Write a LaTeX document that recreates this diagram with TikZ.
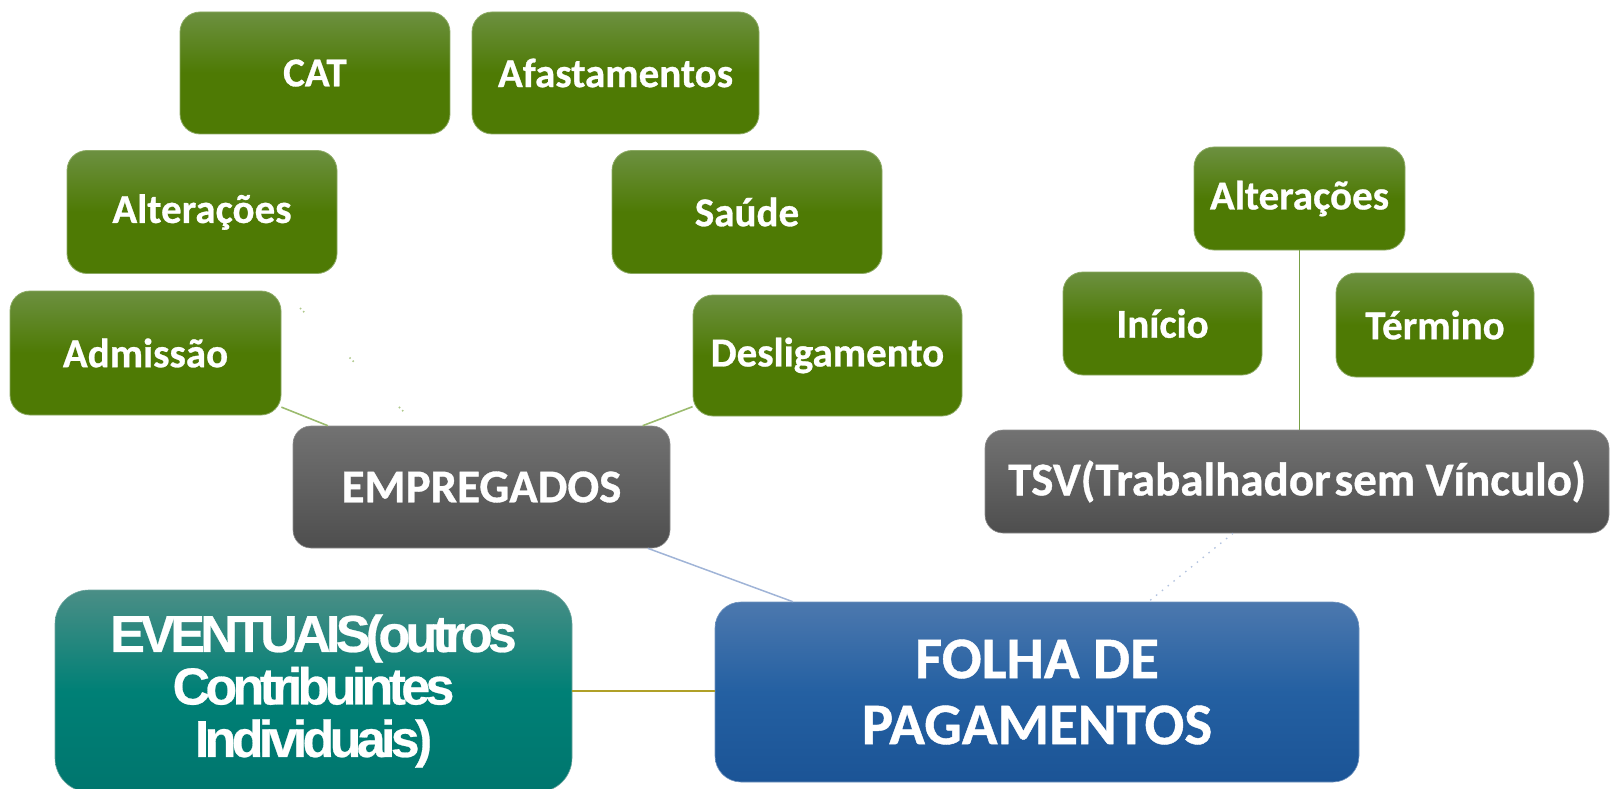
\documentclass[tikz,border=0pt]{standalone}
\usepackage{fontspec}
\setmainfont{Carlito}[BoldFeatures={FakeBold=0.7}]
\newfontfamily\arialfont[LetterSpace=-9,BoldFeatures={FakeBold=0.5}]{Liberation Sans}
\definecolor{gtop}{RGB}{108,144,64}
\definecolor{gbot}{RGB}{78,122,4}
\definecolor{gline}{RGB}{140,170,100}
\definecolor{dtop}{RGB}{114,114,114}
\definecolor{dbot}{RGB}{78,78,78}
\definecolor{btop}{RGB}{76,120,174}
\definecolor{bmid}{RGB}{36,96,162}
\definecolor{bbot}{RGB}{27,84,150}
\definecolor{ttop}{RGB}{74,142,134}
\definecolor{tmid}{RGB}{0,128,118}
\definecolor{tbot}{RGB}{0,118,110}
\definecolor{lgreen}{RGB}{155,187,110}
\definecolor{vgreen}{RGB}{120,160,70}
\definecolor{lblue}{RGB}{160,180,215}
\definecolor{olive}{RGB}{176,160,40}
\begin{document}
\begin{tikzpicture}[x=1pt,y=-1pt,
  box/.style={rounded corners=20pt, inner sep=0pt, align=center, text=white},
  gbox/.style={box, top color=gtop, bottom color=gbot, middle color=gbot, draw=gline, line width=0.8pt,
    font=\fontsize{41}{48}\selectfont\bfseries},
  dbox/.style={box, rounded corners=18pt, top color=dtop, bottom color=dbot, middle color={dtop!50!dbot}, draw=dtop!80!white, line width=0.6pt,
    font=\fontsize{47}{54}\selectfont\bfseries},
  bbox/.style={box, rounded corners=26pt, top color=btop, bottom color=bbot, middle color=bmid, draw=btop!80!white, line width=0.6pt,
    font=\fontsize{59}{66}\selectfont\bfseries},
  tbox/.style={box, rounded corners=34pt, top color=ttop, bottom color=tbot, middle color=tmid, draw=ttop!80!white, line width=0.6pt,
    font=\fontsize{52}{52.5}\selectfont\arialfont\bfseries},
  conG/.style={draw=lgreen, line width=1.6pt},
  conV/.style={draw=vgreen, line width=1.5pt},
  conB/.style={draw=lblue, line width=1.5pt},
  conBd/.style={draw=lblue!80!white, line width=1.3pt, dash pattern=on 1.5pt off 6pt},
  conO/.style={draw=olive, line width=1.8pt},
  conF/.style={draw=lgreen, line width=1.6pt, dash pattern=on 1.5pt off 3pt on 1.5pt off 64pt, opacity=0.8}
]
\useasboundingbox (0,0) rectangle (1614,789);

\node[gbox, minimum width=270, minimum height=122] (cat) at (315,73) {CAT};
\node[gbox, minimum width=287, minimum height=122] (afa) at (615.5,73) {Afastamentos};
\node[gbox, minimum width=270, minimum height=123] (altl) at (202,212) {Alterações};
\node[gbox, minimum width=270, minimum height=123] (sau) at (747,212) {Saúde};
\node[gbox, minimum width=271, minimum height=124] (adm) at (145.5,353) {Admissão};
\node[gbox, minimum width=269, minimum height=121] (des) at (827.5,355.5) {Desligamento};
\node[dbox, minimum width=377, minimum height=122] (emp) at (481.5,487) {EMPREGADOS};

\node[gbox, minimum width=211, minimum height=103] (altr) at (1299.5,198.5) {Alterações};
\node[gbox, minimum width=199, minimum height=103] (ini) at (1162.5,323.5) {Início};
\node[gbox, minimum width=198, minimum height=104] (ter) at (1435,325) {Término};
\node[dbox, minimum width=624, minimum height=103] (tsv) at (1297,481.5) {TSV({\spaceskip=0.08em Trabalhador sem} Vínculo)};

\node[tbox, minimum width=517, minimum height=202] (eve) at (313.5,691) {EVENTUAIS(outros\\Contribuintes\\Individuais)};
\node[bbox, minimum width=644, minimum height=180] (fol) at (1037,692) {FOLHA DE\\PAGAMENTOS};

\coordinate (fs) at (300,308);
\coordinate (fe) at (410,418);

\draw[conG] (adm) -- (emp);
\draw[conG] (des) -- (emp);
\draw[conF] (fs) -- (fe);
\draw[conB] (emp) -- (fol);
\draw[conBd] (tsv) -- (fol);
\draw[conV] (altr.south) -- (altr.south |- tsv.north);
\draw[conO] (eve.east) -- (eve.east -| fol.west);
\end{tikzpicture}
\end{document}
